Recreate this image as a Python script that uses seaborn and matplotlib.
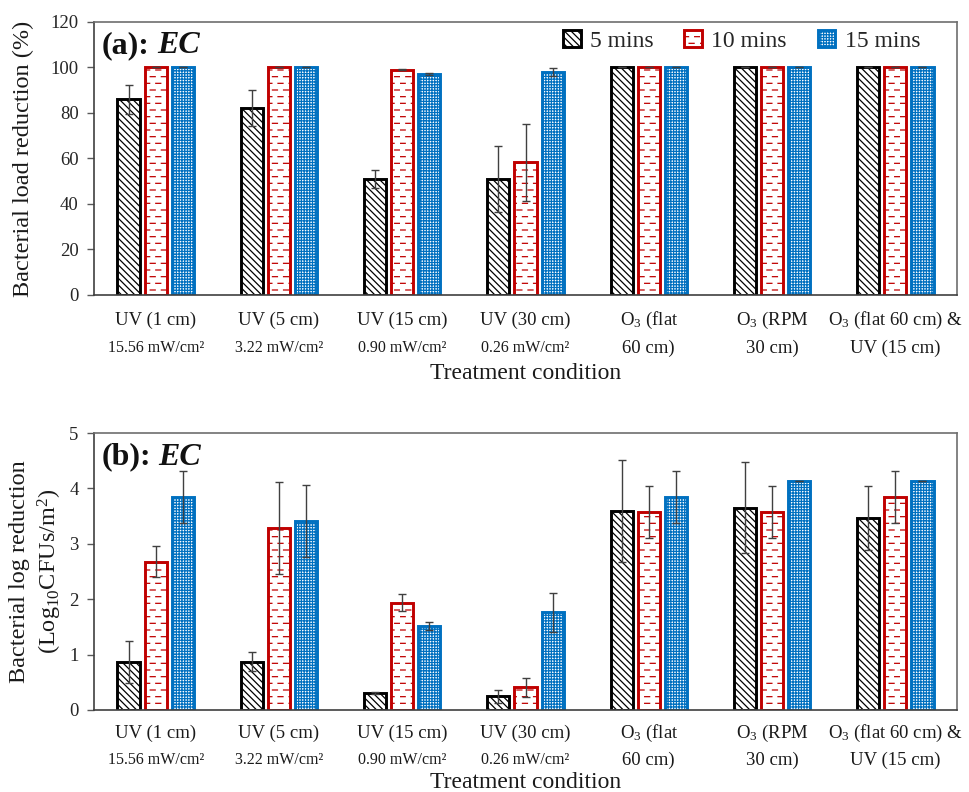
import numpy as np
import pandas as pd
import matplotlib
matplotlib.use("Agg")
import matplotlib.pyplot as plt
import matplotlib.hatch as mhatch
from matplotlib.path import Path
from matplotlib.patches import Patch
import seaborn as sns

# ---------------------------------------------------------------- data
conditions = ["UV1", "UV5", "UV15", "UV30", "O3flat", "O3RPM", "O3UV"]
label_top = ["UV (1 cm)", "UV (5 cm)", "UV (15 cm)", "UV (30 cm)",
             "O$_3$ (flat", "O$_3$ (RPM", "O$_3$ (flat 60 cm) &"]
label_bottom = ["15.56 mW/cm²", "3.22 mW/cm²", "0.90 mW/cm²", "0.26 mW/cm²",
                "60 cm)", "30 cm)", "UV (15 cm)"]
times = ["5 mins", "10 mins", "15 mins"]

# (a) bacterial load reduction, %
pct_5 = [86.0, 82.3, 51.0, 50.8, 100.0, 100.0, 100.0]
pct_10 = [100.0, 100.0, 99.0, 58.3, 100.0, 100.0, 100.0]
pct_15 = [100.0, 100.0, 97.2, 97.9, 100.0, 100.0, 100.0]
pct_err_5 = [6.3, 7.9, 3.8, 14.5, 0.0, 0.0, 0.0]
pct_err_10 = [0.0, 0.0, 0.3, 17.0, 0.0, 0.0, 0.0]
pct_err_15 = [0.0, 0.0, 0.3, 1.7, 0.0, 0.0, 0.0]

# (b) bacterial log reduction, Log10 CFUs/m2
log_5 = [0.86, 0.87, 0.31, 0.25, 3.59, 3.65, 3.47]
log_10 = [2.68, 3.29, 1.94, 0.41, 3.57, 3.57, 3.84]
log_15 = [3.84, 3.41, 1.52, 1.76, 3.84, 4.13, 4.13]
log_err_5 = [0.38, 0.17, 0.02, 0.12, 0.92, 0.82, 0.58]
log_err_10 = [0.28, 0.83, 0.15, 0.17, 0.47, 0.47, 0.47]
log_err_15 = [0.47, 0.65, 0.07, 0.36, 0.47, 0.0, 0.0]

edge_colors = ["#000000", "#C00000", "#0070C0"]
hatches = ["\\\\\\\\\\", "OO", "++++++"]


# --------------------------------------------- staggered dash hatch ('O')
class DashHatch(mhatch.HatchPatternBase):
    rows_per_unit = 15
    cols_per_unit = 9

    def __init__(self, hatch, density):
        self.on = hatch.count("O") > 0
        self.num_vertices = (self.rows_per_unit * self.cols_per_unit * 2) if self.on else 0

    def set_vertices_and_codes(self, vertices, codes):
        p = 1.0 / self.cols_per_unit
        dash = 0.45 * p
        k = 0
        for r in range(self.rows_per_unit):
            y = (r + 0.5) / self.rows_per_unit
            off = 0.0 if r % 2 == 0 else 0.5 * p
            for c in range(self.cols_per_unit):
                x0 = c * p + off + 0.02 * p
                vertices[k] = (x0, y)
                vertices[k + 1] = (x0 + dash, y)
                codes[k] = Path.MOVETO
                codes[k + 1] = Path.LINETO
                k += 2


mhatch._hatch_types = [DashHatch if t is mhatch.LargeCircles else t
                       for t in mhatch._hatch_types]

# ---------------------------------------------------------------- style
sns.set_theme(style="white")
plt.rcParams["font.family"] = ["Liberation Serif", "DejaVu Serif"]
plt.rcParams["mathtext.fontset"] = "custom"
plt.rcParams["mathtext.rm"] = "Liberation Serif"
plt.rcParams["mathtext.it"] = "Liberation Serif:italic"
plt.rcParams["mathtext.bf"] = "Liberation Serif:bold"
plt.rcParams["hatch.linewidth"] = 0.9

fig = plt.figure(figsize=(9.69, 7.92), dpi=100)
ax_a = fig.add_axes([94 / 969, 1 - 295 / 792, 863 / 969, 273 / 792])
ax_b = fig.add_axes([94 / 969, 1 - 710 / 792, 863 / 969, 277 / 792])


def long_frame(v5, v10, v15):
    return pd.DataFrame({
        "condition": conditions * 3,
        "time": [times[0]] * 7 + [times[1]] * 7 + [times[2]] * 7,
        "value": list(v5) + list(v10) + list(v15),
    })


def draw_panel(ax, df, errs, ymax, ystep, tag, ylabel, ylabel_x, label_gap):
    sns.barplot(data=df, x="condition", y="value", hue="time",
                order=conditions, hue_order=times,
                palette=["white"] * 3, width=0.66, gap=0.18,
                errorbar=None, legend=False, ax=ax, saturation=1)
    for cont, col, h, err in zip(ax.containers, edge_colors, hatches, errs):
        xs, ys = [], []
        for bar in cont:
            bar.set_facecolor("white")
            bar.set_edgecolor(col)
            bar.set_hatch(h)
            bar.set_linewidth(2.1)
            xs.append(bar.get_x() + bar.get_width() / 2)
            ys.append(bar.get_height())
        ax.errorbar(xs, ys, yerr=err, fmt="none", ecolor="#404040",
                    elinewidth=1.0, capsize=3.2, capthick=1.0, zorder=5)

    ax.set_xlim(-0.5, len(conditions) - 0.5)
    ax.set_ylim(0, ymax)
    ax.set_yticks(np.arange(0, ymax + ystep / 2, ystep))
    ax.tick_params(axis="y", which="major", left=True, length=5, width=1,
                   color="#595959", labelsize=13.5, labelcolor="#262626", pad=6)
    ax.tick_params(axis="x", bottom=False, labelbottom=False)
    for s in ax.spines.values():
        s.set_visible(True)
        s.set_color("#6e6e6e")
        s.set_linewidth(1.2)
    ax.spines["bottom"].set_color("#404040")
    ax.spines["left"].set_color("#404040")
    ax.set_xlabel("")
    ax.set_ylabel(ylabel, fontsize=17.5, color="#1a1a1a", linespacing=1.25)
    ax.yaxis.label.set_verticalalignment("center")
    ax.yaxis.set_label_coords(ylabel_x, 0.5)

    # two-line category labels
    for i in range(len(conditions)):
        small = i < 4
        ax.annotate(label_top[i], xy=(i, 0), xycoords=("data", "axes fraction"),
                    xytext=(0, -label_gap[0]), textcoords="offset pixels",
                    ha="center", va="center", fontsize=13.5, color="#1a1a1a")
        ax.annotate(label_bottom[i], xy=(i, 0), xycoords=("data", "axes fraction"),
                    xytext=(0, -label_gap[1]), textcoords="offset pixels",
                    ha="center", va="center", fontsize=11.5 if small else 13.5,
                    color="#1a1a1a")
    ax.annotate("Treatment condition", xy=(0.5, 0), xycoords="axes fraction",
                xytext=(0, -label_gap[2]), textcoords="offset pixels",
                ha="center", va="center", fontsize=17, color="#1a1a1a")

    # panel tag: "(x): " bold + EC bold italic
    t = ax.annotate(tag, xy=(0, 1), xycoords="axes fraction",
                    xytext=(8, -24), textcoords="offset pixels",
                    ha="left", va="center", fontsize=23, fontweight="bold",
                    color="#111111")
    ax.annotate("EC", xy=(1, 0.5), xycoords=t, xytext=(7, 0),
                textcoords="offset pixels", ha="left", va="center",
                fontsize=23, fontweight="bold", fontstyle="italic",
                color="#111111")


draw_panel(ax_a, long_frame(pct_5, pct_10, pct_15),
           [pct_err_5, pct_err_10, pct_err_15], 120, 20, "(a):",
           "Bacterial load reduction (%)", -0.0815, (25, 53, 79))
draw_panel(ax_b, long_frame(log_5, log_10, log_15),
           [log_err_5, log_err_10, log_err_15], 5, 1, "(b):",
           "Bacterial log reduction\n(Log$_{10}$CFUs/m$^2$)", -0.0665, (23, 50, 73))

handles = [Patch(facecolor="white", edgecolor=c, hatch=h, linewidth=2.1)
           for c, h in zip(edge_colors, hatches)]
ax_a.legend(handles, times, loc="upper right", bbox_to_anchor=(0.978, 1.035),
            ncol=3, frameon=False, fontsize=17, handlelength=0.75,
            handleheight=0.75, handletextpad=0.4, columnspacing=1.3,
            borderaxespad=0.35)

fig.savefig("out.png", dpi=100)
